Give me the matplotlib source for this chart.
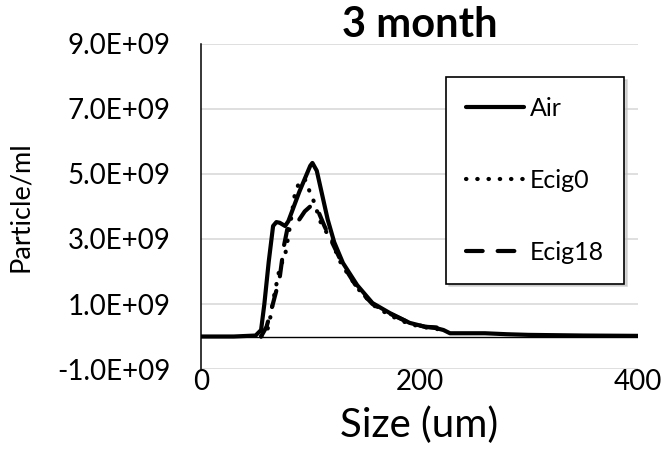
import matplotlib
matplotlib.use('Agg')
import matplotlib.pyplot as plt
from matplotlib.ticker import FuncFormatter

plt.rcParams['font.family'] = ['Lato', 'DejaVu Sans']

# Data (size in um, concentration in particles/ml)
air_x = [0, 30, 50, 55, 58, 62, 66, 69, 72, 77, 80, 85, 90, 95, 100, 102, 106, 110, 116, 122,
         130, 143, 157, 173, 191, 205, 215, 222, 228, 260, 280, 300, 350, 400]
air_y = [0.0, 0.0, 0.03, 0.2, 1.0, 2.3, 3.4, 3.52, 3.5, 3.4, 3.55, 4.0, 4.45, 4.85, 5.25, 5.34,
         5.1, 4.5, 3.6, 2.9, 2.26, 1.58, 1.03, 0.72, 0.42, 0.3, 0.26, 0.2, 0.1, 0.1, 0.07, 0.05,
         0.03, 0.02]

ecig0_x = [55, 60, 63, 66, 69, 72, 77, 81, 86, 90, 95, 99, 104, 109, 115, 121, 125, 130, 143,
           157, 173, 191, 210, 225]
ecig0_y = [0.0, 0.1, 0.5, 1.1, 1.6, 2.1, 2.5, 3.3, 4.4, 4.75, 4.85, 4.5, 4.1, 3.55, 3.2, 2.9,
           2.45, 2.15, 1.5, 0.98, 0.65, 0.38, 0.25, 0.2]

ecig18_x = [55, 60, 65, 72, 76, 79, 84, 90, 95, 100, 104, 108, 113, 120, 130, 143, 157, 173,
            191, 205, 215, 225]
ecig18_y = [0.0, 0.3, 0.9, 1.8, 2.8, 3.3, 3.4, 3.6, 3.85, 4.0, 4.05, 3.8, 3.4, 2.9, 2.2, 1.5,
            1.0, 0.7, 0.42, 0.3, 0.28, 0.25]

scale = 1e9
y_ticks = [-1, 1, 3, 5, 7, 9]
x_ticks = [0, 200, 400]

fig = plt.figure(figsize=(6.63, 4.58), dpi=100)
ax = fig.add_axes([0.3032, 0.1943, 0.6588, 0.7097])

ax.plot(air_x, [v * scale for v in air_y], color='black', lw=3, label='Air',
        solid_capstyle='round', solid_joinstyle='round')
ax.plot(ecig0_x, [v * scale for v in ecig0_y], color='black', lw=3, label='Ecig0',
        linestyle=(0, (0.1, 2.6)), dash_capstyle='round')
ax.plot(ecig18_x, [v * scale for v in ecig18_y], color='black', lw=3, label='Ecig18',
        linestyle=(0, (4.0, 3.6)), dash_capstyle='round')

ax.axhline(0, color='black', lw=1, zorder=1.5)

ax.set_xlim(0, 400)
ax.set_ylim(-1e9, 9e9)
ax.set_xticks(x_ticks)
ax.set_yticks([t * scale for t in y_ticks])
ax.yaxis.set_major_formatter(FuncFormatter(lambda v, p: f'{v:.1E}'))
ax.grid(axis='y', color='#d9d9d9', lw=1.2)
ax.set_axisbelow(True)

for s in ['top', 'right', 'bottom']:
    ax.spines[s].set_visible(False)
ax.spines['left'].set_linewidth(1.1)

ax.tick_params(axis='y', length=0, pad=22, labelsize=20)
ax.tick_params(axis='x', length=0, pad=0, labelsize=20)

ax.set_xlabel('Size (um)', fontsize=29, labelpad=8)
ax.set_ylabel('Particle/ml', fontsize=19.5)
ax.yaxis.set_label_coords(-0.384, 0.5)
ax.set_title('3 month', fontsize=30, fontweight='bold', pad=1.5)

leg = ax.legend(loc='upper left', bbox_to_anchor=(0.561, 0.898), fontsize=18,
                frameon=True, fancybox=False, edgecolor='black', framealpha=1,
                borderpad=0.8, labelspacing=1.95, handlelength=2.3, handletextpad=0.25,
                borderaxespad=0, shadow={'color': '0.75', 'alpha': 0.6})
leg.get_frame().set_linewidth(1.2)

fig.savefig('out.png', dpi=100)
